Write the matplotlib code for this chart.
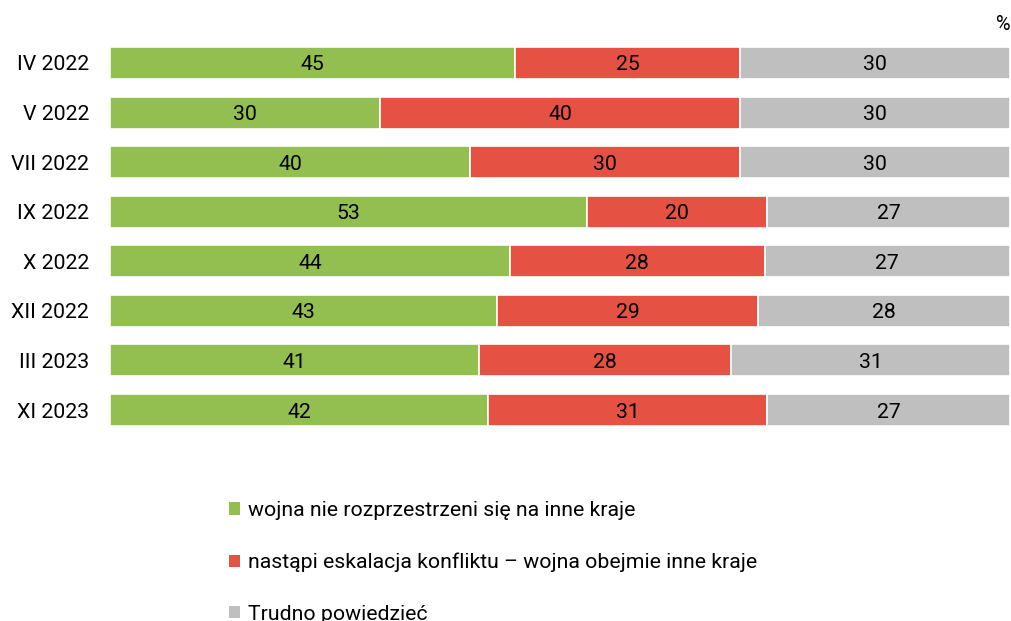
import matplotlib
matplotlib.use("Agg")
import matplotlib.pyplot as plt
from matplotlib.patches import Patch

categories = ["IV 2022", "V 2022", "VII 2022", "IX 2022", "X 2022", "XII 2022", "III 2023", "XI 2023"]
no_spread = [45, 30, 40, 53, 44, 43, 41, 42]
escalation = [25, 40, 30, 20, 28, 29, 28, 31]
hard_to_say = [30, 30, 30, 27, 27, 28, 31, 27]
series_labels = ["wojna nie rozprzestrzeni się na inne kraje",
                 "nastąpi eskalacja konfliktu – wojna obejmie inne kraje",
                 "Trudno powiedzieć"]
colors = ["#92BF50", "#E55243", "#BFBFBF"]

plt.rcParams['font.family'] = ['Roboto', 'DejaVu Sans']
FS = 15.3

fig = plt.figure(figsize=(10.11, 6.21), dpi=100)
ax = fig.add_axes([110/1011, 1-434.8/621, 900/1011, (434.8-38.2)/621])

series = [no_spread, escalation, hard_to_say]
totals = [sum(t) for t in zip(*series)]
ypos = list(range(len(categories)))
left = [0.0]*len(categories)
for vals, col in zip(series, colors):
    widths = [v / t * 100 for v, t in zip(vals, totals)]
    ax.barh(ypos, widths, left=left, height=0.645, color=col, edgecolor="white", linewidth=1.2)
    for y, v, w, l in zip(ypos, vals, widths, left):
        ax.text(l + w/2, y, str(v), ha="center", va="center_baseline", fontsize=FS, color="black")
    left = [a + b for a, b in zip(left, widths)]

ax.set_xlim(0, 100)
ax.set_ylim(len(categories)-0.5, -0.5)
ax.set_yticks(ypos)
ax.set_yticklabels(categories, fontsize=FS, va="center_baseline")
ax.tick_params(axis="y", length=0, pad=15)
ax.set_xticks([])
for s in ax.spines.values():
    s.set_visible(False)

fig.text(1003/1011, 1-22/621, "%", ha="center", va="center_baseline", fontsize=FS - 1)

handles = [Patch(facecolor=c, edgecolor="none") for c in colors]
leg = fig.legend(handles, series_labels, loc="upper left", bbox_to_anchor=(229/1011, 1-501/621),
                 frameon=False, fontsize=FS, handlelength=0.5, handleheight=0.5,
                 handletextpad=0.4, labelspacing=1.54, borderaxespad=0, borderpad=0)

fig.savefig("out.png", dpi=100)
